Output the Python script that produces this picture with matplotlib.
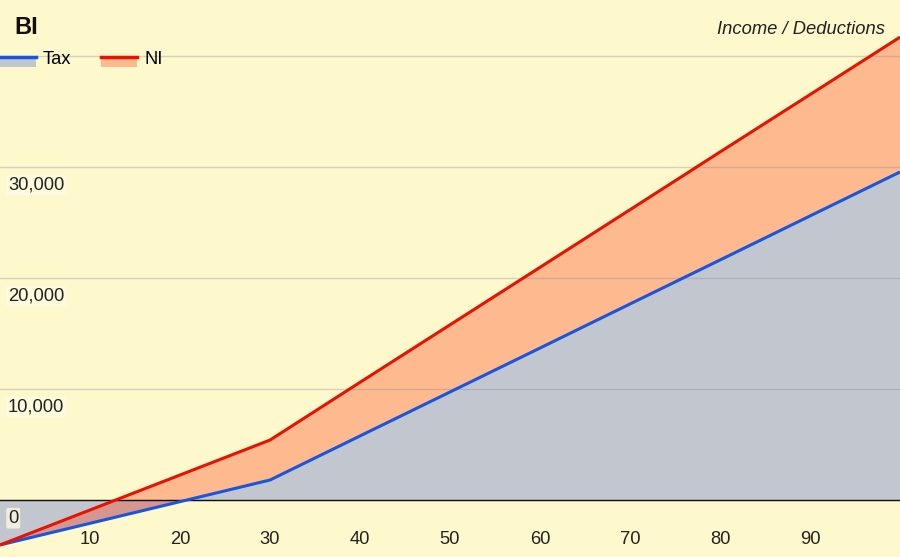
import matplotlib
matplotlib.use("Agg")
import matplotlib.pyplot as plt
import matplotlib.transforms as mtransforms
from matplotlib.legend_handler import HandlerBase
from matplotlib.lines import Line2D
from matplotlib.patches import Rectangle

plt.rcParams['font.family'] = ['Liberation Sans', 'DejaVu Sans']

# Data
income = [0, 10, 20, 30, 40, 50, 60, 70, 80, 90, 100]
tax = [-4050, -2100, -150, 1800, 5770, 9730, 13690, 17660, 21620, 25590, 29550]
ni = [-4050, -900, 2250, 5400, 10600, 15780, 20960, 26150, 31350, 36520, 41700]
y_grid = [0, 10000, 20000, 30000, 40000]
y_labels = [0, 10000, 20000, 30000]
x_ticks = [10, 20, 30, 40, 50, 60, 70, 80, 90]

bg = '#fef8cd'
tax_line = '#1a55dd'
tax_fill = '#c2c6ce'
ni_line = '#e81200'
ni_fill = '#ff2a00'
fs = 13.2

fig = plt.figure(figsize=(9, 5.57), dpi=100)
fig.patch.set_facecolor(bg)
ax = fig.add_axes([0, 0, 1, 1])
ax.set_facecolor(bg)

ax.fill_between(income, 0, tax, color=tax_fill, lw=0, zorder=1)
ax.fill_between(income, tax, ni, color=ni_fill, alpha=0.3, lw=0, zorder=2)
ax.plot(income, tax, color=tax_line, lw=2.2, zorder=6, solid_capstyle='butt')
ax.plot(income, ni, color=ni_line, lw=2.2, zorder=7, solid_capstyle='butt')
ax.axhline(0, color='#111111', lw=1, zorder=5)

ax.set_xlim(0, 100)
ax.set_ylim(-5135, 45045)
ax.set_yticks(y_grid)
ax.grid(axis='y', color='#8a8a9a', alpha=0.35, lw=1, zorder=4)
ax.set_axisbelow(False)
for s in ax.spines.values():
    s.set_visible(False)

ax.set_xticks(x_ticks)
ax.set_xticklabels([str(v) for v in x_ticks])
ax.tick_params(axis='x', direction='in', length=0, pad=-18.5, labelsize=fs,
               labelcolor='#222222')
ax.tick_params(axis='y', length=0, labelleft=False)

# y labels sit just under their gridlines
trans = mtransforms.blended_transform_factory(ax.transAxes, ax.transData)
trans = trans + mtransforms.ScaledTranslation(0, -7 / 72, fig.dpi_scale_trans)
for v in y_labels:
    ax.text(0.009, v, f'{v:,}', transform=trans, ha='left', va='top',
            fontsize=fs, color='#222222', zorder=8,
            bbox=dict(boxstyle='round,pad=0.1', fc='#fffbe2', ec='none', alpha=0.75))

ax.text(0.016, 1 - 28 / 557, 'BI', transform=ax.transAxes, fontsize=17,
        fontweight='bold', ha='left', va='center', color='#111111')
ax.text(885 / 900, 1 - 30 / 557, 'Income / Deductions', transform=ax.transAxes,
        fontsize=fs, style='italic', ha='right', va='center', color='#222222')


class LineOverPatch(HandlerBase):
    def __init__(self, fill, alpha):
        super().__init__()
        self.fill = fill
        self.alpha = alpha

    def create_artists(self, legend, orig_handle, xdescent, ydescent,
                       width, height, fontsize, trans):
        x0, y0 = -xdescent, -ydescent
        rect = Rectangle((x0, y0 - height * 0.25), width, height * 0.75,
                         facecolor=self.fill, alpha=self.alpha, lw=0,
                         transform=trans)
        line = Line2D([x0, x0 + width], [y0 + height * 0.5] * 2,
                      color=orig_handle.get_color(), lw=2.5, transform=trans)
        return [rect, line]


h_tax = Line2D([], [], color=tax_line)
h_ni = Line2D([], [], color=ni_line)
leg = ax.legend([h_tax, h_ni], ['Tax', 'NI'], ncol=2, loc='center left',
                bbox_to_anchor=(0, 1 - 59 / 557), frameon=False,
                fontsize=fs, handlelength=1.95, handletextpad=0.4,
                columnspacing=1.6, borderpad=0, borderaxespad=0,
                handler_map={h_tax: LineOverPatch(tax_fill, 1.0),
                             h_ni: LineOverPatch(ni_fill, 0.3)})
leg.set_zorder(9)

fig.savefig('out.png', dpi=100, facecolor=bg)
